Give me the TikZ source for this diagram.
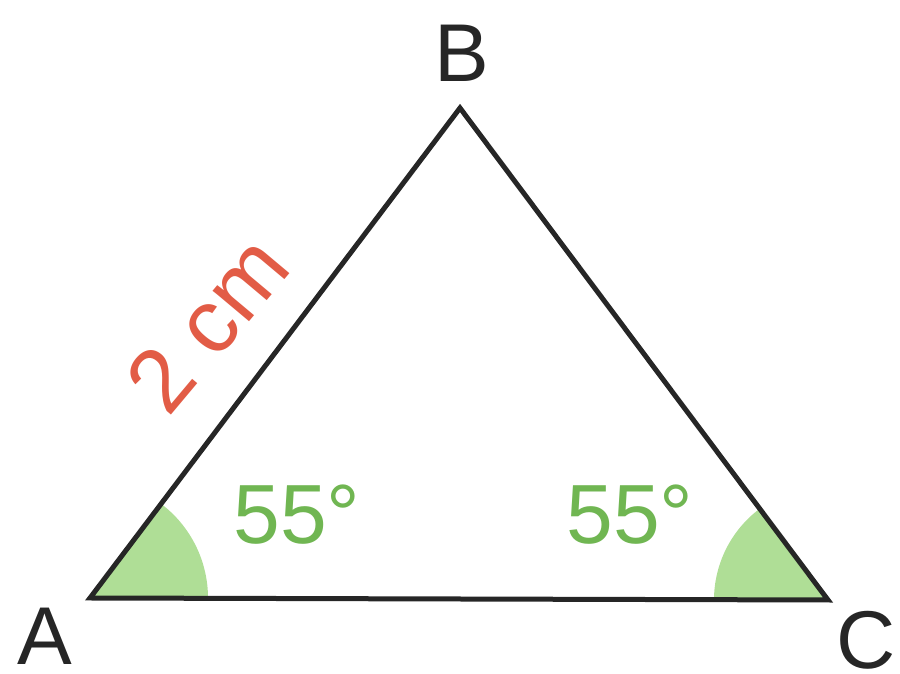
\documentclass[tikz,border=0pt]{standalone}
\usepackage{fontspec}
\setmainfont{Liberation Sans}
\definecolor{angfill}{RGB}{175,222,150}
\definecolor{angtext}{RGB}{112,182,82}
\definecolor{lenred}{RGB}{226,92,70}
\begin{document}
\begin{tikzpicture}[x=1pt,y=1pt,
  side/.style={line width=5pt,line join=miter,draw=black!85},
  vlabel/.style={font=\fontsize{82}{82}\selectfont,text=black!85,inner sep=0pt},
  anglabel/.style={font=\fontsize{84}{84}\selectfont,text=angtext,inner sep=0pt},
  lenlabel/.style={font=\fontsize{90}{90}\selectfont,text=lenred,inner sep=0pt}]
\useasboundingbox (0,0) rectangle (900,674);
\coordinate (A) at (90,76);
\coordinate (B) at (460,566);
\coordinate (C) at (828,74);
\fill[angfill] (A) -- ++(0:118) arc[start angle=0,end angle=52.9,radius=118] -- cycle;
\fill[angfill] (C) -- ++(180:114) arc[start angle=180,end angle=126.8,radius=114] -- cycle;
\draw[side] (A) -- (B) -- (C) -- cycle;
\node[vlabel] (lA) at (45,38) {A};
\node[vlabel] (lB) at (462,621) {B};
\node[vlabel] (lC) at (866,34) {C};
\node[anglabel] (a1) at (297,159) {55°};
\node[anglabel] (a2) at (630,159) {55°};
\node[lenlabel,rotate=50] (len) at (207,350) {2 cm};
\end{tikzpicture}
\end{document}
